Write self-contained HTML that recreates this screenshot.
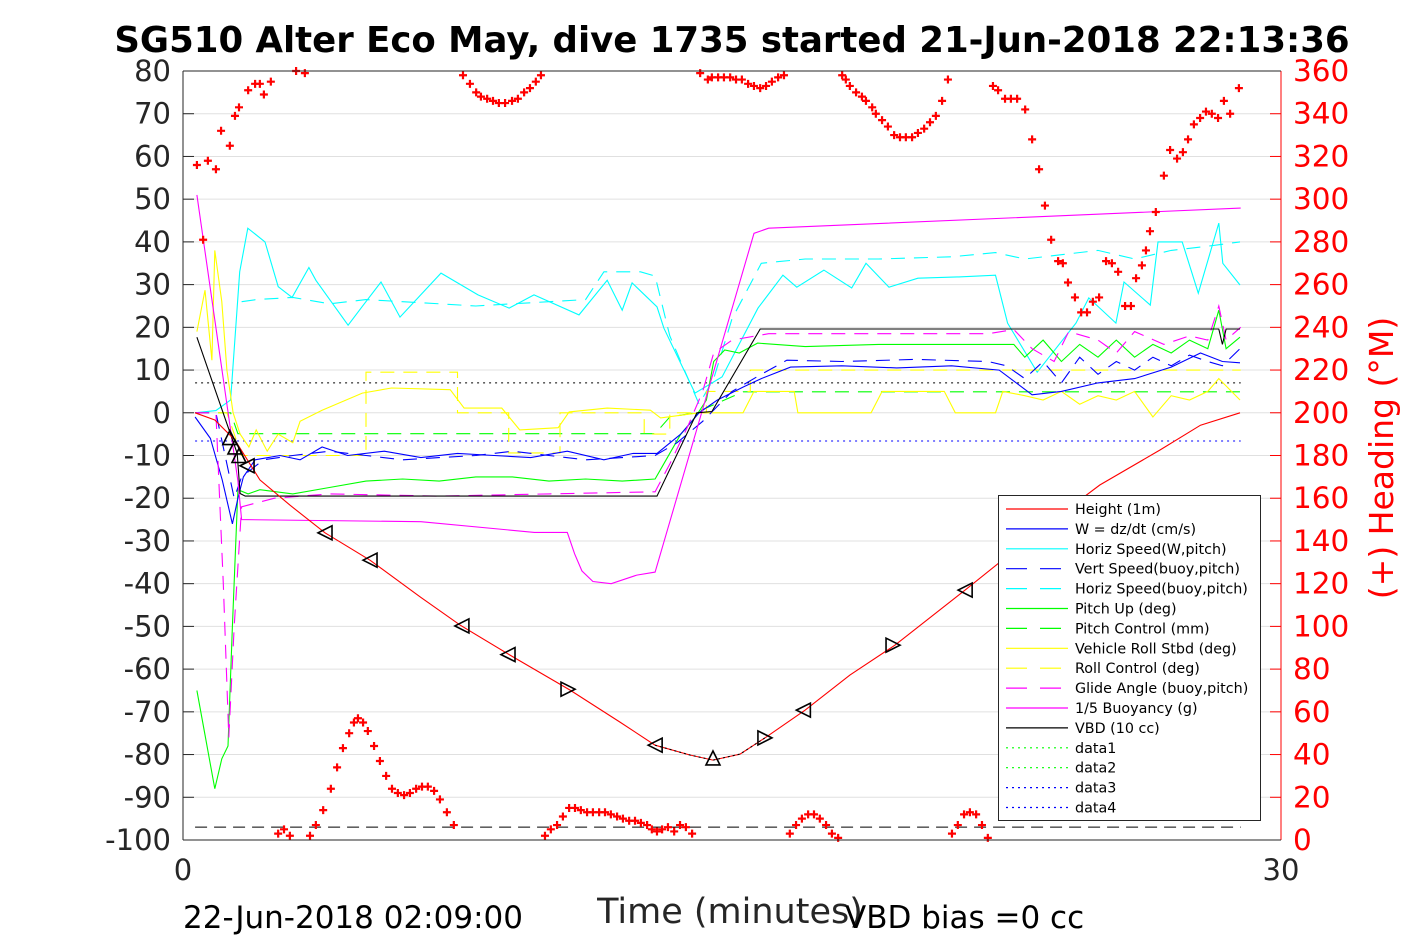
<!DOCTYPE html>
<html><head><meta charset="utf-8"><style>
body{margin:0;background:#fff;}
svg{display:block;font-family:"Liberation Sans","DejaVu Sans",sans-serif;}
</style></head><body>
<svg id="chart" width="1417" height="945" viewBox="0 0 1417 945" xmlns="http://www.w3.org/2000/svg">
<rect width="1417" height="945" fill="#fff"/>
<g id="grid"></g>
<g id="series"></g>
<g id="axes"></g>
<text x="732" y="52" text-anchor="middle" font-size="35.5" font-weight="bold" font-family="DejaVu Sans, sans-serif">SG510 Alter Eco May, dive 1735 started 21-Jun-2018 22:13:36</text>
<text x="730" y="923" text-anchor="middle" font-size="35" fill="#262626" font-family="DejaVu Sans, sans-serif">Time (minutes)</text>
<text x="183" y="928" font-size="31" font-family="DejaVu Sans, sans-serif">22-Jun-2018 02:09:00</text>
<text x="845" y="928" font-size="31" font-family="DejaVu Sans, sans-serif">VBD bias =0 cc</text>
<text transform="translate(1393,458) rotate(-90)" text-anchor="middle" font-size="33" fill="#f00" font-family="DejaVu Sans, sans-serif">(+) Heading (°M)</text>
<g id="legend"></g>
</svg>
<script>
// ---- data ----
const xTicks=[0,30];
const yTicks=[80,70,60,50,40,30,20,10,0,-10,-20,-30,-40,-50,-60,-70,-80,-90,-100];
const hTicks=[360,340,320,300,280,260,240,220,200,180,160,140,120,100,80,60,40,20,0];

const heightT=[0.33,0.87,1.42,2.1,2.92,3.88,5.11,6.48,7.57,8.93,10.57,11.94,12.9,13.85,14.48,15.22,15.9,17.0,18.22,19.45,21.37,23.42,25.05,26.7,27.8,28.88];
const heightV=[0,-1.7,-6.4,-15.7,-21.6,-28.1,-34.5,-43.1,-49.7,-56.7,-64.9,-72.4,-77.8,-80.1,-81.3,-79.9,-76.1,-69.6,-61.4,-54.4,-41.5,-27.4,-16.9,-8.7,-2.9,0];

const markT=[1.28,1.42,1.53,1.75,3.88,5.11,7.62,8.88,10.52,12.9,14.48,15.9,16.95,19.4,21.37];
const markV=[-5.8,-8,-10,-12.4,-28.1,-34.5,-49.9,-56.6,-64.7,-77.8,-80.8,-76.1,-69.6,-54.4,-41.5];
const markDir=['up','up','up','left','left','left','left','left','right','left','up','right','left','right','left'];

const vbdT=[0.38,1.48,1.56,1.7,12.95,14.04,14.45,15.77,28.3,28.4,28.5,28.88];
const vbdV=[17.7,-9.5,-18.9,-19.5,-19.5,0,0.3,19.6,19.6,16,19.6,19.6];

const buoyT=[0.38,1.5,1.6,6.5,9.6,10.5,10.7,10.9,11.2,11.7,12.4,12.9,15.6,16.0,28.9];
const buoyV=[51,-16,-25,-25.5,-28,-28,-33,-37,-39.5,-40,-38,-37.3,42,43.2,47.9];

const glideT=[0.33,0.9,1.1,1.25,1.4,1.6,2.5,4,7,10,12.9,13.3,13.8,14.2,14.5,15,16,22,22.7,23.2,23.8,24.2,25,25.5,26,26.8,27.5,28,28.3,28.5,28.9];
const glideV=[0,0,-40,-76,-50,-22,-20,-19,-19.5,-19,-18.5,-12,-3,5,14,17,18.5,18.5,19.5,15,12,19,17,14,19,16,18,17,25,17,20];

const wT=[0.33,0.75,1.07,1.35,1.5,1.65,1.97,2.65,3.2,3.8,4.5,5.5,6.5,7.5,8.5,9.5,10.5,11.5,12.3,12.95,13.6,14.1,14.6,15.3,15.8,16.6,18,19.5,21,22.3,23.2,24,25,26,27,27.8,28.4,28.88];
const wV=[-1,-6,-15.7,-26,-20,-15,-11,-10,-11,-8,-10,-9,-10.5,-9.5,-10,-10.5,-9,-11,-9.5,-9.5,-5,0,3,6,8,10.7,11,10.5,11,10,4.2,5,7,8,10.7,14,12,11.7];

const vsT=[0.33,0.9,1.2,1.4,1.6,2.2,3,4,5,6,7,8,9,10,11,12,12.9,13.5,14.2,15,15.8,16.5,18,20,22,22.5,23,23.5,24,24.5,25,25.5,26,26.5,27,27.5,28,28.4,28.88];
const vsV=[0,0,-12,-20,-15,-11,-10,-9,-10,-11,-10.5,-10,-9,-10,-11,-10.5,-10,-7,-2,5,9,12.3,12,12.5,12,11,8,12,7,13,9,12,10,13,11,13.5,12,11,15];

const hsT=[0.33,0.9,1.3,1.55,1.77,2.24,2.6,2.98,3.44,3.63,4.51,4.89,5.41,5.93,7.05,8.06,8.91,9.59,10.82,11.59,12.0,12.27,12.95,13.14,13.99,14.73,15.71,16.39,16.77,17.51,18.27,18.66,19.29,20.08,21.15,21.2,22.2,22.53,23.34,24.4,24.75,25.49,25.71,26.43,26.64,27.3,27.74,28.3,28.41,28.88];
const hsV=[0,0.5,3,33,43.2,40,29.5,27,34,31,20.5,24.8,30.6,22.4,32.7,27.6,24.5,27.6,22.9,31,24,30.4,24.8,19.8,4.6,8.4,24.5,32.2,29.4,33.4,29.2,35,29.4,31.5,31.8,31.8,32.2,21,9.5,21,26.9,21,30.6,25.2,40,40,28,44.4,35,29.9];

const hbT=[1.6,2,3,4,5,6,7,8,9,10,11,11.5,12.5,12.9,13.3,13.7,14.1,14.5,15,15.8,17,19,21,22.2,23,24,25,26,27,28,28.88];
const hbV=[26,26.5,27,25.5,26.5,26,25.5,25,25.5,26,26.5,33,33,32,18,10,2,8,22,35,36,36,36.5,37.5,36,37,38,36,38,39,40];

const pitchT=[0.38,0.6,0.87,1.06,1.23,1.35,1.5,1.78,2.1,3,4,5,6,7,8,9,10,11,12,12.9,13.2,13.6,14,14.3,14.5,14.8,15.2,15.7,17,19,21,22.7,23,23.5,24,24.5,25,25.5,26,26.5,27,27.5,28,28.3,28.5,28.88];
const pitchV=[-65,-75.4,-88,-81,-78,-50,-18,-19,-18,-19,-17.5,-16,-15.5,-16,-15,-15,-16,-15.5,-16,-15.5,-11,-5,-1,3,12,14.7,14,16.3,15.5,16,16,16,13,17,12,16,13,17,13,16,14,17,15,24,15,17.7];

const rollT=[0.38,0.6,0.79,0.87,1.06,1.2,1.37,1.56,1.8,2,2.3,2.6,3,3.2,3.8,4.9,5.7,7.3,7.68,8.71,9.2,10.25,10.55,11.59,12.77,13.05,14.1,15.3,15.6,16.7,16.8,18.8,19.1,20.8,21.1,22.2,22.4,23,23.5,24,24.5,25,25.5,26,26.5,27,27.5,28,28.3,28.88];
const rollV=[19,28.7,12.3,38,26,10,0,-5,-8,-4,-9,-5,-7,-2,0.6,4.6,5.8,5.4,1.1,1.1,-4,-3.5,0.2,1.1,0.6,-1.2,0,0,5,5,0,0,5,5,0,0,5,4,3,5,2,4,3,5,-1,4,3,5,8,3];

const rollCtlT=[0.33,1.2,1.6,5.0,5.0,7.5,7.5,8.9,8.9,10.3,10.3,12.6,12.6,13.3,13.3,14.3,14.3,15.5,15.5,28.9];
const rollCtlV=[0,0,-10,-10,9.5,9.5,0,0,-9.4,-9.4,0,0,-5,-5,0,0,5,5,10,10];

const pcT=[0.33,1.3,1.5,12.9,13.3,14,15.3,28.9];
const pcV=[0,0,-4.9,-4.9,-1,0,4.9,4.9];

const headT=[0.38,0.68,0.9,1.04,1.28,1.42,1.53,1.78,1.97,2.1,2.21,2.4,3.09,3.33,0.55,7.65,7.84,8.01,8.14,8.31,8.47,8.63,8.8,8.99,9.15,9.32,9.48,9.64,9.78,14.13,14.34,14.45,14.62,14.78,14.95,15.11,15.27,15.44,15.6,15.77,15.93,16.09,16.26,16.42,18.01,18.11,18.22,18.39,18.55,18.66,18.83,18.93,19.1,19.26,19.43,19.59,19.75,19.92,20.08,20.25,20.41,20.57,20.74,20.9,22.13,22.27,22.46,22.62,22.79,23.01,23.2,23.39,23.55,23.72,23.91,24.04,24.18,24.37,24.54,24.7,24.86,25.03,25.22,25.38,25.55,25.74,25.9,26.04,26.2,26.31,26.42,26.58,26.8,26.97,27.16,27.32,27.46,27.62,27.79,27.95,28.11,28.28,28.44,28.61,28.85,
2.6,2.76,2.92,3.47,3.63,3.83,4.04,4.21,4.37,4.54,4.67,4.78,4.92,5.05,5.22,5.38,5.55,5.71,5.87,6.04,6.2,6.37,6.53,6.69,6.86,7.02,7.21,7.4,9.89,10.05,10.22,10.38,10.55,10.71,10.87,11.04,11.2,11.37,11.53,11.69,11.86,12.02,12.19,12.35,12.51,12.68,12.81,12.95,13.09,13.25,13.42,13.58,13.74,13.91,16.58,16.75,16.91,17.08,17.24,17.4,17.57,17.73,17.9,21.01,21.17,21.34,21.5,21.67,21.83,21.99];
const headV=[316,318,314,332,325,339,343,351,354,354,349,355,360,359,281,358,354,350,348,347,346,345,345,346,347,350,352,355,358,359,356,357,357,357,357,356,356,354,353,352,353,355,357,358,358,356,353,350,348,346,343,340,337,334,330,329,329,329,331,333,336,339,346,356,353,351,347,347,347,342,328,314,297,281,271,270,261,254,247,247,252,254,271,270,266,250,250,263,269,276,285,294,311,323,319,322,328,335,338,341,340,338,346,340,352,
3,5,2,2,7,14,24,34,43,50,55,57,55,51,44,37,30,24,22,21,22,24,25,25,23,19,13,7,2,5,7,11,15,15,14,13,13,13,13,12,11,10,9,9,8,7,5,4,5,6,4,7,6,3,3,7,10,12,12,10,7,3,1,3,7,12,13,12,7,1];

const refLines=[7,-6.6,-97];

// ---- axes ----
const X0=183,X1=1281,Y0=840,Y1=71;
const sx=t=>X0+(t-0)/(30-0)*(X1-X0);
const sy=v=>Y0-(v+100)/180*(Y0-Y1);
const sh=h=>Y0-h/360*(Y0-Y1);
const NS='http://www.w3.org/2000/svg';
function mk(tag,attrs,parent){const e=document.createElementNS(NS,tag);for(const k in attrs)e.setAttribute(k,attrs[k]);parent.appendChild(e);return e;}
const grid=document.getElementById('grid'),ser=document.getElementById('series'),axes=document.getElementById('axes'),leg=document.getElementById('legend');

yTicks.forEach(v=>{
  if(v!==80&&v!==-100){const g=mk('line',{x1:X0,x2:X1,y1:sy(v),y2:sy(v),stroke:'#e0e0e0','stroke-width':1},grid);
  
  }
  const tk=mk('line',{x1:X0,x2:X0+11,y1:sy(v),y2:sy(v),stroke:'#262626','stroke-width':1},axes);
  
  
  const tx=mk('text',{x:X0-12,y:sy(v)+10,'text-anchor':'end','font-size':29,fill:'#262626','font-family':'DejaVu Sans, sans-serif'},axes);
  tx.textContent=v;
  
  
});
hTicks.forEach(h=>{
  const tk=mk('line',{x1:X1-11,x2:X1,y1:sh(h),y2:sh(h),stroke:'#f00','stroke-width':1},axes);
  
  
  const tx=mk('text',{x:X1+12,y:sh(h)+10,'font-size':29.5,fill:'#f00','font-family':'DejaVu Sans, sans-serif'},axes);
  tx.textContent=h;
  
  
});
xTicks.forEach(t=>{
  const tx=mk('text',{x:sx(t),y:880,'text-anchor':'middle','font-size':29,fill:'#262626','font-family':'DejaVu Sans, sans-serif'},axes);
  tx.textContent=t;
  
  
});
let a=mk('line',{x1:X0,x2:X0,y1:Y1,y2:Y0,stroke:'#262626'},axes);


a=mk('line',{x1:X1,x2:X1,y1:Y1,y2:Y0,stroke:'#f00'},axes);


a=mk('line',{x1:X0,x2:X1,y1:Y1,y2:Y1,stroke:'#262626'},axes);


a=mk('line',{x1:X0,x2:X1,y1:Y0,y2:Y0,stroke:'#262626'},axes);



// ---- series ----
function line(T,V,color,dash,name){
  const d=T.map((t,i)=>(i?'L':'M')+sx(t).toFixed(1)+','+sy(V[i]).toFixed(1)).join('');
  const p=mk('path',{d:d,fill:'none',stroke:color,'stroke-width':1.1},ser);
  if(dash)p.setAttribute('stroke-dasharray',dash);
  
  
}
[[7,'#000'],[-6.6,'#00f'],[-97,'#000']].forEach((r,i)=>{
  const l=mk('line',{x1:sx(0.33),x2:sx(28.9),y1:sy(refLines[i]),y2:sy(refLines[i]),stroke:r[1],'stroke-width':1,'stroke-dasharray':i<2?'2,4':'12,7'},ser);
  
  
});
line(hbT,hbV,'#0ff','14,9','horiz-speed-buoy-line');
line(hsT,hsV,'#0ff',null,'horiz-speed-w-line');
line(pcT,pcV,'#0f0','14,9','pitch-control-line');
line(rollCtlT,rollCtlV,'#ff0','14,9','roll-control-line');
line(rollT,rollV,'#ff0',null,'roll-line');
line(pitchT,pitchV,'#0f0',null,'pitch-up-line');
line(vsT,vsV,'#00f','14,9','vert-speed-buoy-line');
line(wT,wV,'#00f',null,'w-line');
line(glideT,glideV,'#f0f','14,9','glide-angle-line');
line(buoyT,buoyV,'#f0f',null,'buoyancy-line');
line(vbdT,vbdV,'#000',null,'vbd-line');
line(heightT,heightV,'#f00',null,'height-line');
line(heightT.slice(12,17),heightV.slice(12,17),'#000','2,3','bottom-dotted-line');

markT.forEach((t,i)=>{
  const x=sx(t),y=sy(markV[i]),s=7;let pts;
  if(markDir[i]==='up')pts=[[x,y-s],[x-s,y+s],[x+s,y+s]];
  else if(markDir[i]==='left')pts=[[x-s,y],[x+s,y-s],[x+s,y+s]];
  else pts=[[x+s,y],[x-s,y-s],[x-s,y+s]];
  const m=mk('polygon',{points:pts.map(p=>p.join(',')).join(' '),fill:'none',stroke:'#000','stroke-width':1.6},ser);
  
  
});
headT.forEach((t,i)=>{
  const x=sx(t),y=sh(headV[i]);
  const m=mk('path',{d:`M${x-4},${y}H${x+4}M${x},${y-4}V${y+4}`,stroke:'#f00','stroke-width':2.2},ser);
  
  
});

// ---- legend ----
const legNames=['Height (1m)','W = dz/dt (cm/s)','Horiz Speed(W,pitch)','Vert Speed(buoy,pitch)','Horiz Speed(buoy,pitch)','Pitch Up (deg)','Pitch Control (mm)','Vehicle Roll Stbd (deg)','Roll Control (deg)','Glide Angle (buoy,pitch)','1/5 Buoyancy (g)','VBD (10 cc)','data1','data2','data3','data4'];
const legColors=['#f00','#00f','#0ff','#00f','#0ff','#0f0','#0f0','#ff0','#ff0','#f0f','#f0f','#000','#0f0','#0f0','#00f','#00f'];
const legDash=[null,null,null,'21,13','21,13',null,'21,13',null,'21,13','21,13',null,null,'2,4','2,4','2,4','2,4'];
const lb=mk('rect',{x:998.5,y:495.5,width:262,height:325,fill:'#fff',stroke:'#262626'},leg);


legNames.forEach((n,i)=>{
  const y=509+i*19.9;
  const l=mk('line',{x1:1006,x2:1068,y1:y,y2:y,stroke:legColors[i],'stroke-width':1.2},leg);
  if(legDash[i])l.setAttribute('stroke-dasharray',legDash[i]);
  
  
  const tx=mk('text',{x:1075,y:y+5,'font-size':14.3,fill:'#000','font-family':'DejaVu Sans, sans-serif'},leg);
  tx.textContent=n;
  
  
});
</script>
</body></html>
